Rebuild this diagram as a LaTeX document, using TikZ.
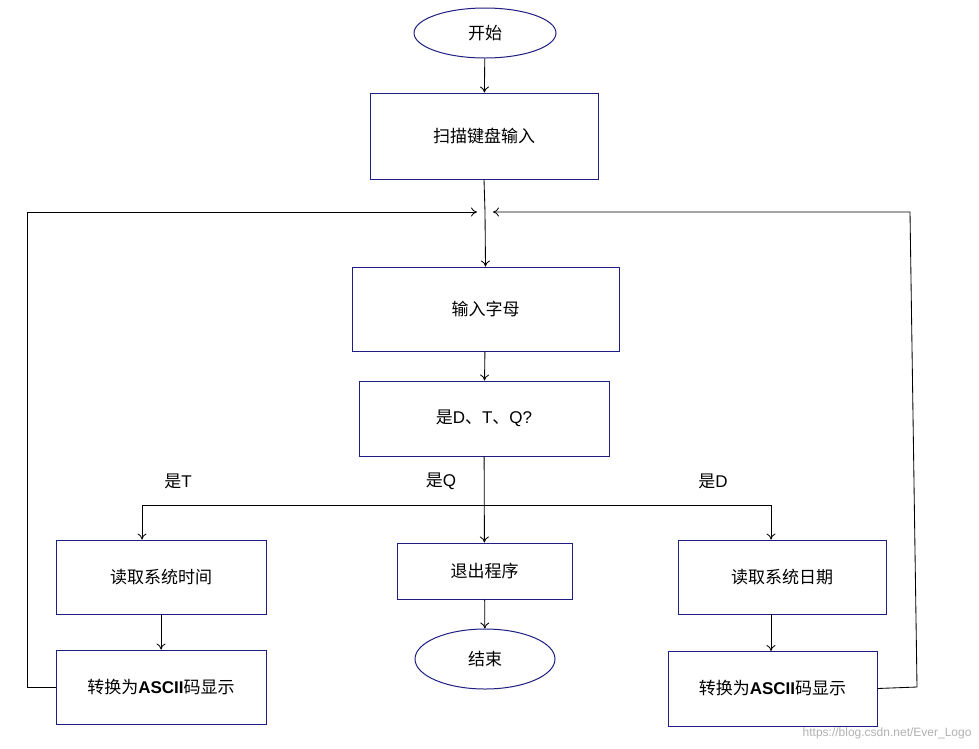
\documentclass[tikz,border=0pt]{standalone}
\usepackage{fontspec}
\setmainfont{Liberation Sans}
\newfontfamily\cjk{Noto Sans CJK SC}
\usetikzlibrary{shapes.geometric,arrows.meta}
\definecolor{bx}{RGB}{30,30,130}
\begin{document}
\begin{tikzpicture}[x=1pt,y=-1pt,
  box/.style={draw=bx,line width=1pt,minimum width=#1,inner sep=0pt,font=\fontsize{17}{20}\selectfont},
  ell/.style={ellipse,draw=bx,line width=1pt,inner sep=0pt,font=\fontsize{17}{20}\selectfont},
  arr/.style={-{To[length=6pt,width=9pt]},line width=0.85pt},
  ln/.style={line width=0.85pt},
  lab/.style={font=\fontsize{17}{20}\selectfont}]
\useasboundingbox[fill=white] (0,0) rectangle (979,748);
\node[ell,minimum width=142,minimum height=50] (start) at (485,33) {\cjk 开始};
\node[box=228,minimum height=86] (scan) at (484,136) {\cjk 扫描键盘输入};
\node[box=267,minimum height=84] (inp) at (485.5,309) {\cjk 输入字母};
\node[box=250,minimum height=75] (chk) at (484,418.5) {{\cjk 是}D{\cjk 、}T{\cjk 、}Q?};
\node[box=175,minimum height=56] (quit) at (484.5,571) {\cjk 退出程序};
\node[ell,minimum width=140,minimum height=60] (end) at (485,659) {\cjk 结束};
\node[box=210,minimum height=74] (rt) at (161,577) {\cjk 读取系统时间};
\node[box=210,minimum height=74] (ct) at (161,687) {{\cjk 转换为}\textbf{ASCII}{\cjk 码显示}};
\node[box=208,minimum height=74] (rd) at (782,577) {\cjk 读取系统日期};
\node[box=209,minimum height=75] (cd) at (772.5,688.5) {{\cjk 转换为}\textbf{ASCII}{\cjk 码显示}};
\coordinate (m) at (485,212);
\coordinate (bl) at (142,505);
\coordinate (bd) at (771,505);
\draw[arr] (start) -- (scan);
\draw[ln] (scan.south) -- (m);
\draw[arr] (m) -- (inp.north);
\draw[arr] (inp) -- (chk);
\draw[arr] (chk) -- (quit);
\draw[arr] (quit) -- (end);
\draw[ln] (bl) -- (bd);
\draw[arr] (bl) -- (bl |- rt.north);
\draw[arr] (bd) -- (bd |- rd.north);
\draw[arr] (rt) -- (ct);
\draw[arr] (771,614) -- (771,651);
\draw[arr] (ct.west) -- (27,687) -- (27,212) -- (477,212);
\draw[arr] (cd.east) -- (917,687) -- (910,212) -- (493,212);
\node[lab] (lt) at (178,481) {{\cjk 是}T};
\node[lab] (lq) at (441,481) {{\cjk 是}Q};
\node[lab] (ld) at (713,481) {{\cjk 是}D};
\node[font=\fontsize{12}{14}\selectfont,text=gray!60,anchor=east] (wm) at (975,733) {https://blog.csdn.net/Ever\_Logo};
\end{tikzpicture}
\end{document}
